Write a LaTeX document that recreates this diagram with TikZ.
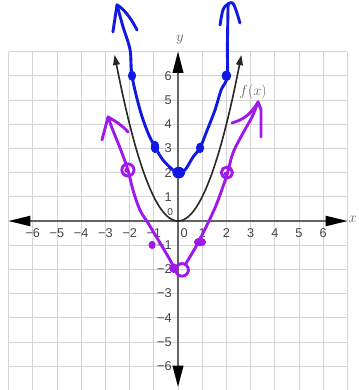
\documentclass[tikz,border=0pt]{standalone}
\usepackage{fontspec}
\newfontfamily\tickfont{Liberation Sans}
\usetikzlibrary{arrows.meta}
\definecolor{gridc}{RGB}{212,212,212}
\definecolor{axisc}{RGB}{100,100,100}
\definecolor{tickc}{RGB}{70,70,70}
\definecolor{parabc}{RGB}{40,40,40}
\definecolor{penblue}{RGB}{15,25,225}
\definecolor{penpurple}{RGB}{160,25,235}
\definecolor{labc}{RGB}{100,100,100}
\begin{document}
\begin{tikzpicture}[x=1cm,y=1cm,
  gridl/.style={draw=gridc, line width=1.1pt},
  axisl/.style={draw=axisc, line width=1.3pt},
  tick/.style={font=\tickfont\fontsize{15}{17}\selectfont, text=tickc, inner sep=0pt},
  axlab/.style={font=\fontsize{16}{18}\selectfont, text=labc, inner sep=0pt},
  pen/.style={line width=3.4pt, line cap=round, line join=round},
  bluepen/.style={pen, draw=penblue},
  purppen/.style={pen, draw=penpurple},
  parab/.style={draw=parabc, line width=1.9pt},
]
\useasboundingbox (-7.355,-6.983) rectangle (7.438,9.132);
\fill[white] (-7.355,-6.983) rectangle (7.438,9.132);
% grid
\draw[gridl] (-7,-7) grid (7,7);
% axes
\draw[axisl] (-6.3,0) -- (6.3,0);
\draw[axisl] (0,-6.2) -- (0,6.3);
\fill[black] (-7,0) -- (-6.1,0.22) -- (-6.1,-0.22) -- cycle;
\fill[black] (7,0) -- (6.1,0.22) -- (6.1,-0.22) -- cycle;
\fill[black] (0,7) -- (0.23,6.12) -- (-0.23,6.12) -- cycle;
\fill[black] (0,-6.85) -- (0.23,-5.98) -- (-0.23,-5.98) -- cycle;
\node[axlab] (ylab) at (0.08,7.48) {$y$};
\node[axlab, anchor=west] (xlab) at (7.04,0.05) {$x$};
% tick labels
\foreach \k in {1,...,6} {
  \node[tick] (xp\k) at (\k,-0.5) {\k};
  \node[tick] (xn\k) at (-\k,-0.5) {−\k};
  \node[tick, anchor=east] (yp\k) at (-0.25,\k) {\k};
  \node[tick, anchor=east] (yn\k) at (-0.25,-\k) {−\k};
}
\node[tick] (x0) at (0.25,-0.5) {0};
\node[tick, anchor=east, font=\tickfont\fontsize{12}{14}\selectfont] (y0) at (-0.2,0.36) {0};
% f(x) = x^2
\draw[parab, {Triangle[length=0.42cm,width=0.28cm]}-{Triangle[length=0.42cm,width=0.28cm]}]
  plot[domain=-2.62:2.62, samples=80] (\x,{\x*\x});
\node[axlab] (flab) at (3.1,5.33) {$f(x)$};
% blue hand-drawn curve
\draw[bluepen] plot[smooth, tension=0.55] coordinates {
  (-2.52,8.93) (-2.27,8.02) (-1.98,7.07) (-1.9,5.99) (-1.57,4.59) (-1.24,3.64)
  (-0.95,3.06) (-0.62,2.52) (-0.21,2.11) (0,1.98) (0.29,2.11) (0.62,2.64)
  (0.91,3.02) (1.16,3.64) (1.53,4.59) (1.78,5.41) (2.03,5.95) (2.04,7.2) (2.07,8.95)};
\draw[bluepen] (-2.69,7.81) -- (-2.52,8.93) .. controls (-2.2,8.75) and (-1.9,8.3) .. (-1.69,7.89);
\draw[bluepen] plot[smooth, tension=0.6] coordinates {(1.74,8.1) (1.86,8.72) (2.07,8.97) (2.3,8.95) (2.56,8.18)};
\fill[penblue] (-1.9,6.0) ellipse (0.17 and 0.21);
\fill[penblue] (-0.95,3.06) ellipse (0.17 and 0.26);
\fill[penblue] (0.03,2.0) ellipse (0.26 and 0.24);
\fill[penblue] (0.91,3.02) ellipse (0.17 and 0.22);
\fill[penblue] (2.0,6.0) ellipse (0.2 and 0.22);
% purple hand-drawn curve
\draw[purppen] plot[smooth, tension=0.55] coordinates {
  (-2.89,4.30) (-2.73,3.85) (-2.35,2.9) (-2.07,2.11) (-1.86,1.28) (-1.57,0.45)
  (-1.24,-0.08) (-0.74,-0.91) (-0.33,-1.61) (-0.12,-2.02)};
\draw[purppen] plot[smooth, tension=0.55] coordinates {
  (0.3,-1.8) (0.78,-0.99) (1.24,-0.08) (1.61,0.74) (2.02,1.9) (2.27,2.81)
  (2.69,3.64) (3.06,4.30) (3.31,4.92)};
\draw[purppen] (-3.14,3.35) -- (-2.89,4.30) .. controls (-2.55,4.1) and (-2.3,3.95) .. (-2.07,3.68);
\draw[purppen] (2.23,4.05) .. controls (2.6,4.17) and (2.95,4.3) .. (3.31,4.92) -- (3.43,4.6) -- (3.43,3.47);
\draw[purppen] (-2.07,2.11) circle (0.25);
\fill[penpurple] (-2.12,2.1) circle (0.1);
\draw[purppen] (2.02,2.0) circle (0.23);
\fill[penpurple] (1.98,1.95) circle (0.09);
\draw[purppen] (0.17,-2.02) circle (0.26);
\fill[penpurple] (-0.18,-1.95) ellipse (0.18 and 0.2);
\fill[penpurple] (0.91,-0.87) ellipse (0.26 and 0.17);
\fill[penpurple] (-1.07,-0.99) ellipse (0.15 and 0.17);
\end{tikzpicture}
\end{document}
